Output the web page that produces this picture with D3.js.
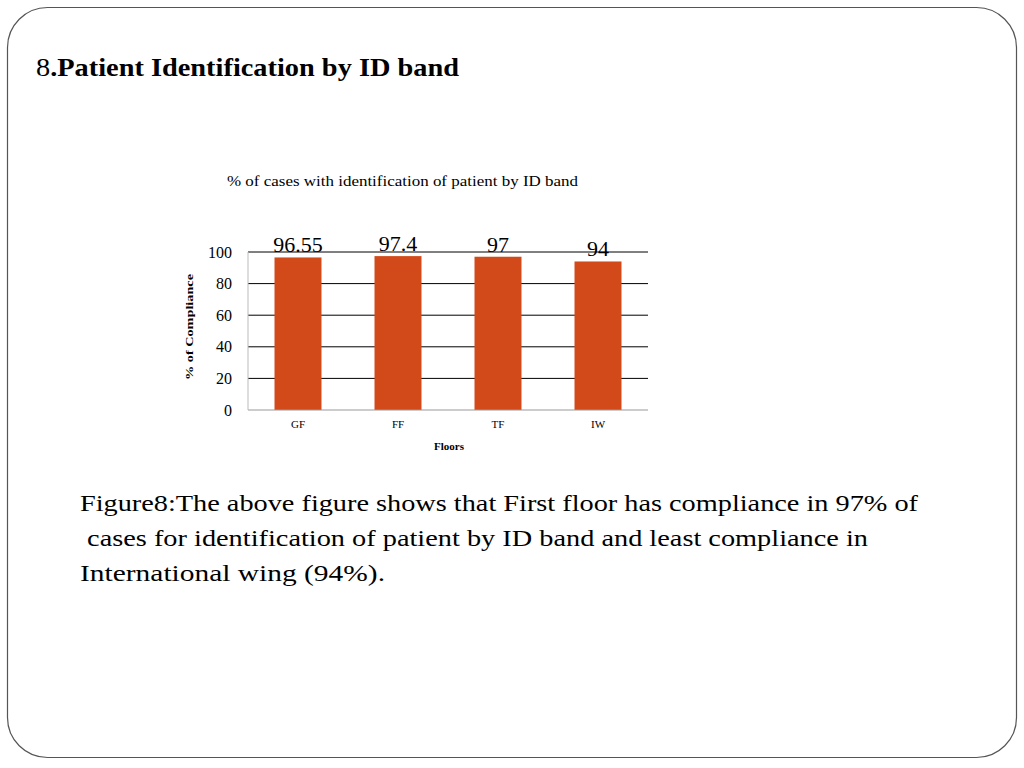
<!DOCTYPE html>
<html><head><meta charset="utf-8">
<script src="https://cdn.jsdelivr.net/npm/d3@7"></script>
<style>body{margin:0;background:#fff}svg{display:block}</style>
</head><body>
<svg id="c" width="1024" height="768"></svg>
<script>
const categories = ["GF","FF","TF","IW"];
const values = [96.55, 97.4, 97, 94];
const valueLabels = ["96.55","97.4","97","94"];
const yTicks = [0,20,40,60,80,100];
const heading = ".Patient Identification by ID band";
const chartTitle = "% of cases with identification of patient by ID band";
const caption = ["Figure8:The above figure shows that First floor has compliance in 97% of",
  " cases for identification of patient by ID band and least compliance in",
  "International wing (94%)."];
const captionWidths = [838, 788, 305];

const svg = d3.select("#c");
const serif = "'Liberation Serif','Times New Roman',serif";

svg.append("rect").attr("x",7.5).attr("y",7.5).attr("width",1009).attr("height",750)
  .attr("rx",40).attr("ry",40).attr("fill","#fff").attr("stroke","#555").attr("stroke-width",1.2);

const h = svg.append("text").attr("x",36).attr("y",76).attr("font-family",serif).attr("font-size",25).attr("fill","#000")
  .attr("textLength",423).attr("lengthAdjust","spacingAndGlyphs");
h.append("tspan").text("8");
h.append("tspan").attr("font-weight","bold").text(heading);

svg.append("text").attr("x",227).attr("y",186)
  .attr("font-family",serif).attr("font-size",14).attr("textLength",351).attr("lengthAdjust","spacingAndGlyphs")
  .text(chartTitle);

const x = d3.scaleBand().domain(categories).range([248,648]).paddingInner(0.53).paddingOuter(0.265);
const y = d3.scaleLinear().domain([0,100]).range([410,252]);

const grid = svg.append("g");
grid.selectAll("line").data(yTicks.filter(d=>d>0)).join("line")
  .attr("x1",248).attr("x2",648).attr("y1",d=>y(d)).attr("y2",d=>y(d))
  .attr("stroke","#000").attr("stroke-width",1);

svg.append("g").selectAll("rect").data(values).join("rect")
  .attr("x",(d,i)=>x(categories[i])).attr("width",x.bandwidth())
  .attr("y",d=>y(d)).attr("height",d=>y(0)-y(d)).attr("fill","#d24a1a");

svg.append("line").attr("x1",248).attr("x2",648).attr("y1",y(0)).attr("y2",y(0))
  .attr("stroke","#999").attr("stroke-width",1);
svg.append("line").attr("x1",248).attr("x2",248).attr("y1",y(0)).attr("y2",y(100))
  .attr("stroke","#bbb").attr("stroke-width",1);

const ya = d3.axisLeft(y).tickValues(yTicks).tickSize(0).tickPadding(16);
const yg = svg.append("g").attr("transform","translate(248,0)").call(ya);
yg.select(".domain").remove();
yg.selectAll("text").attr("font-family",serif).attr("font-size",16).attr("fill","#000");

const xa = d3.axisBottom(x).tickSize(0).tickPadding(10);
const xg = svg.append("g").attr("transform",`translate(0,${y(0)})`).call(xa);
xg.select(".domain").remove();
xg.selectAll("text").attr("font-family",serif).attr("font-size",11).attr("fill","#000");

svg.append("g").selectAll("text").data(values).join("text")
  .attr("x",(d,i)=>x(categories[i])+x.bandwidth()/2).attr("y",d=>y(d)-5)
  .attr("text-anchor","middle").attr("font-family",serif).attr("font-size",22)
  .text((d,i)=>valueLabels[i]);

svg.append("text").attr("transform","translate(193,327) rotate(-90)").attr("text-anchor","middle")
  .attr("font-family",serif).attr("font-size",11).attr("font-weight","bold")
  .attr("textLength",106).attr("lengthAdjust","spacingAndGlyphs")
  .text("% of  Compliance");
svg.append("text").attr("x",449).attr("y",450).attr("text-anchor","middle")
  .attr("font-family",serif).attr("font-size",11).attr("font-weight","bold").text("Floors");

svg.append("g").selectAll("text").data(caption).join("text")
  .attr("x",80).attr("y",(d,i)=>511+i*35).attr("font-family",serif).attr("font-size",24)
  .attr("textLength",(d,i)=>captionWidths[i]).attr("lengthAdjust","spacingAndGlyphs")
  .style("white-space","pre").text(d=>d);
</script>
</body></html>
